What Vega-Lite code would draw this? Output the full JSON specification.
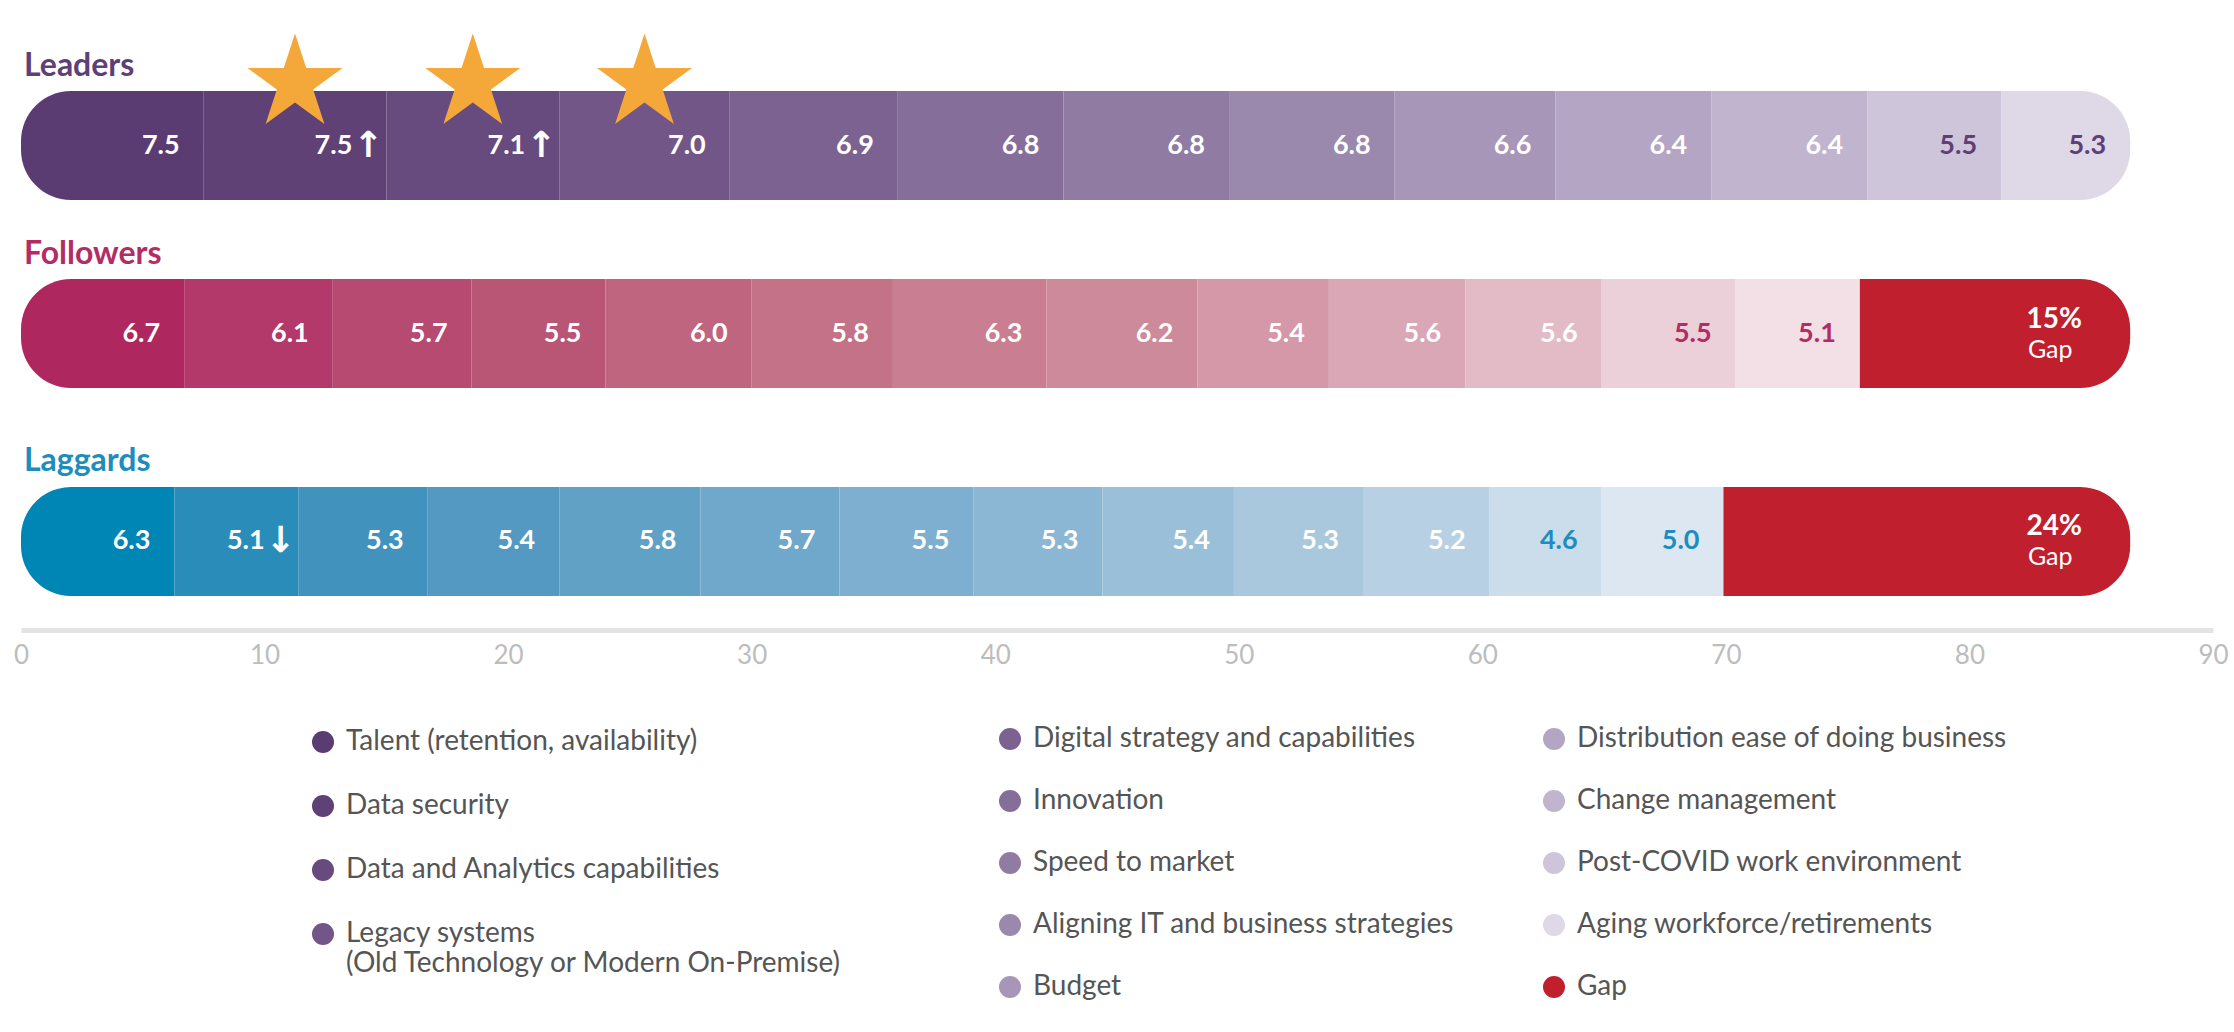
{
  "$schema": "https://vega.github.io/schema/vega-lite/v6.json",
  "width": 2192,
  "height": 573,
  "autosize": {"type": "none"},
  "padding": {"left": 21, "top": 57, "right": 21, "bottom": 402},
  "background": "white",
  "config": {"view": {"stroke": null}, "font": "Lato"},
  "data": {
    "values": [
      {"group": "Leaders", "rank": 1, "factor": "Talent (retention, availability)", "value": 7.5},
      {"group": "Leaders", "rank": 2, "factor": "Data security", "value": 7.5, "trend": "↑", "star": true},
      {"group": "Leaders", "rank": 3, "factor": "Data and Analytics capabilities", "value": 7.1, "trend": "↑", "star": true},
      {"group": "Leaders", "rank": 4, "factor": "Legacy systems (Old Technology or Modern On-Premise)", "value": 7.0, "star": true},
      {"group": "Leaders", "rank": 5, "factor": "Digital strategy and capabilities", "value": 6.9},
      {"group": "Leaders", "rank": 6, "factor": "Innovation", "value": 6.8},
      {"group": "Leaders", "rank": 7, "factor": "Speed to market", "value": 6.8},
      {"group": "Leaders", "rank": 8, "factor": "Aligning IT and business strategies", "value": 6.8},
      {"group": "Leaders", "rank": 9, "factor": "Budget", "value": 6.6},
      {"group": "Leaders", "rank": 10, "factor": "Distribution ease of doing business", "value": 6.4},
      {"group": "Leaders", "rank": 11, "factor": "Change management", "value": 6.4},
      {"group": "Leaders", "rank": 12, "factor": "Post-COVID work environment", "value": 5.5},
      {"group": "Leaders", "rank": 13, "factor": "Aging workforce/retirements", "value": 5.3},
      {"group": "Followers", "rank": 1, "factor": "Talent (retention, availability)", "value": 6.7},
      {"group": "Followers", "rank": 2, "factor": "Data security", "value": 6.1},
      {"group": "Followers", "rank": 3, "factor": "Data and Analytics capabilities", "value": 5.7},
      {"group": "Followers", "rank": 4, "factor": "Legacy systems (Old Technology or Modern On-Premise)", "value": 5.5},
      {"group": "Followers", "rank": 5, "factor": "Digital strategy and capabilities", "value": 6.0},
      {"group": "Followers", "rank": 6, "factor": "Innovation", "value": 5.8},
      {"group": "Followers", "rank": 7, "factor": "Speed to market", "value": 6.3},
      {"group": "Followers", "rank": 8, "factor": "Aligning IT and business strategies", "value": 6.2},
      {"group": "Followers", "rank": 9, "factor": "Budget", "value": 5.4},
      {"group": "Followers", "rank": 10, "factor": "Distribution ease of doing business", "value": 5.6},
      {"group": "Followers", "rank": 11, "factor": "Change management", "value": 5.6},
      {"group": "Followers", "rank": 12, "factor": "Post-COVID work environment", "value": 5.5},
      {"group": "Followers", "rank": 13, "factor": "Aging workforce/retirements", "value": 5.1},
      {"group": "Followers", "rank": 14, "factor": "Gap", "value": 11.1, "label": "15%"},
      {"group": "Laggards", "rank": 1, "factor": "Talent (retention, availability)", "value": 6.3},
      {"group": "Laggards", "rank": 2, "factor": "Data security", "value": 5.1, "trend": "↓"},
      {"group": "Laggards", "rank": 3, "factor": "Data and Analytics capabilities", "value": 5.3},
      {"group": "Laggards", "rank": 4, "factor": "Legacy systems (Old Technology or Modern On-Premise)", "value": 5.4},
      {"group": "Laggards", "rank": 5, "factor": "Digital strategy and capabilities", "value": 5.8},
      {"group": "Laggards", "rank": 6, "factor": "Innovation", "value": 5.7},
      {"group": "Laggards", "rank": 7, "factor": "Speed to market", "value": 5.5},
      {"group": "Laggards", "rank": 8, "factor": "Aligning IT and business strategies", "value": 5.3},
      {"group": "Laggards", "rank": 9, "factor": "Budget", "value": 5.4},
      {"group": "Laggards", "rank": 10, "factor": "Distribution ease of doing business", "value": 5.3},
      {"group": "Laggards", "rank": 11, "factor": "Change management", "value": 5.2},
      {"group": "Laggards", "rank": 12, "factor": "Post-COVID work environment", "value": 4.6},
      {"group": "Laggards", "rank": 13, "factor": "Aging workforce/retirements", "value": 5.0},
      {"group": "Laggards", "rank": 14, "factor": "Gap", "value": 16.7, "label": "24%"}
    ]
  },
  "transform": [
    {"stack": "value", "groupby": ["group"], "sort": [{"field": "rank", "order": "ascending"}], "as": ["x0", "x1"]},
    {"calculate": "(datum.x0 + datum.x1) / 2", "as": "mid"}
  ],
  "encoding": {
    "y": {"field": "group", "type": "nominal", "sort": ["Leaders", "Followers", "Laggards"], "axis": null,
          "scale": {"paddingInner": 0.45, "paddingOuter": 0.172}}
  },
  "layer": [
    {
      "transform": [{"filter": "datum.group == 'Leaders' && datum.rank <= 4"}],
      "mark": {"type": "circle", "size": 484, "opacity": 1},
      "encoding": {
        "x": {"field": "mid", "type": "quantitative"},
        "color": {"field": "factor", "type": "nominal",
          "scale": {"domain": ["Talent (retention, availability)", "Data security", "Data and Analytics capabilities", "Legacy systems (Old Technology or Modern On-Premise)"],
                    "range": ["#5b3c72", "#5f4176", "#674b7e", "#715687"]},
          "legend": {"orient": "none", "legendX": 288, "legendY": 671, "title": null, "symbolType": "circle", "symbolSize": 484,
                     "labelFont": "Lato", "labelFontSize": 28, "labelColor": "#555555", "labelOffset": 9, "rowPadding": 36, "labelLimit": 900,
                     "labelExpr": "datum.label == 'Legacy systems (Old Technology or Modern On-Premise)' ? ['Legacy systems', '(Old Technology or Modern On-Premise)'] : datum.label"}}
      }
    },
    {
      "transform": [{"filter": "datum.group == 'Leaders' && datum.rank >= 5 && datum.rank <= 9"}],
      "mark": {"type": "circle", "size": 484, "opacity": 1},
      "encoding": {
        "x": {"field": "mid", "type": "quantitative"},
        "color": {"field": "factor", "type": "nominal",
          "scale": {"domain": ["Digital strategy and capabilities", "Innovation", "Speed to market", "Aligning IT and business strategies", "Budget"],
                    "range": ["#7b6290", "#856e99", "#907ba3", "#9b88ad", "#a796b8"]},
          "legend": {"orient": "none", "legendX": 975, "legendY": 668, "title": null, "symbolType": "circle", "symbolSize": 484,
                     "labelFont": "Lato", "labelFontSize": 28, "labelColor": "#555555", "labelOffset": 9, "rowPadding": 34, "labelLimit": 900}}
      }
    },
    {
      "transform": [{"filter": "(datum.group == 'Leaders' && datum.rank >= 10) || (datum.group == 'Followers' && datum.factor == 'Gap')"}],
      "mark": {"type": "circle", "size": 484, "opacity": 1},
      "encoding": {
        "x": {"field": "mid", "type": "quantitative"},
        "color": {"field": "factor", "type": "nominal",
          "scale": {"domain": ["Distribution ease of doing business", "Change management", "Post-COVID work environment", "Aging workforce/retirements", "Gap"],
                    "range": ["#b3a5c3", "#c1b4ce", "#cfc5da", "#dfd8e6", "#c01f2e"]},
          "legend": {"orient": "none", "legendX": 1519, "legendY": 668, "title": null, "symbolType": "circle", "symbolSize": 484,
                     "labelFont": "Lato", "labelFontSize": 28, "labelColor": "#555555", "labelOffset": 9, "rowPadding": 34, "labelLimit": 900}}
      }
    },
    {
      "transform": [{"filter": "datum.group == 'Leaders'"}],
      "mark": {"type": "bar",
        "cornerRadiusTopLeft": {"expr": "datum.rank == 1 ? 50 : 0"},
        "cornerRadiusBottomLeft": {"expr": "datum.rank == 1 ? 50 : 0"},
        "cornerRadiusTopRight": {"expr": "datum.rank == 13 ? 50 : 0"},
        "cornerRadiusBottomRight": {"expr": "datum.rank == 13 ? 50 : 0"}},
      "encoding": {
        "x": {"field": "x0", "type": "quantitative", "scale": {"domain": [0, 90], "nice": false, "zero": true},
              "axis": {"values": [0, 10, 20, 30, 40, 50, 60, 70, 80, 90], "title": null, "ticks": false, "grid": false,
                       "domainColor": "#e3e3e3", "domainWidth": 5, "labelColor": "#bdbdbd", "labelFont": "Lato",
                       "labelFontSize": 26, "labelPadding": 12, "labelFlush": false, "labelBound": false, "labelOverlap": false}},
        "x2": {"field": "x1"},
        "color": {"field": "factor", "type": "nominal", "legend": null,
          "scale": {"domain": ["Talent (retention, availability)", "Data security", "Data and Analytics capabilities", "Legacy systems (Old Technology or Modern On-Premise)", "Digital strategy and capabilities", "Innovation", "Speed to market", "Aligning IT and business strategies", "Budget", "Distribution ease of doing business", "Change management", "Post-COVID work environment", "Aging workforce/retirements"],
                    "range": ["#5b3c72", "#5f4176", "#674b7e", "#715687", "#7b6290", "#856e99", "#907ba3", "#9b88ad", "#a796b8", "#b3a5c3", "#c1b4ce", "#cfc5da", "#dfd8e6"]}}
      }
    },
    {
      "transform": [{"filter": "datum.group == 'Followers' && datum.factor != 'Gap'"}],
      "mark": {"type": "bar", "yOffset": -10,
        "cornerRadiusTopLeft": {"expr": "datum.rank == 1 ? 50 : 0"},
        "cornerRadiusBottomLeft": {"expr": "datum.rank == 1 ? 50 : 0"}},
      "encoding": {
        "x": {"field": "x0", "type": "quantitative"},
        "x2": {"field": "x1"},
        "color": {"field": "factor", "type": "nominal", "legend": null,
          "scale": {"domain": ["Talent (retention, availability)", "Data security", "Data and Analytics capabilities", "Legacy systems (Old Technology or Modern On-Premise)", "Digital strategy and capabilities", "Innovation", "Speed to market", "Aligning IT and business strategies", "Budget", "Distribution ease of doing business", "Change management", "Post-COVID work environment", "Aging workforce/retirements"],
                    "range": ["#ae285f", "#b3396a", "#b64a70", "#ba5675", "#c0657f", "#c47288", "#c97e91", "#cc8a9b", "#d498a9", "#daa7b7", "#e3bbc7", "#ecd0d9", "#f3dfe6"]}}
      }
    },
    {
      "transform": [{"filter": "datum.group == 'Laggards' && datum.factor != 'Gap'"}],
      "mark": {"type": "bar",
        "cornerRadiusTopLeft": {"expr": "datum.rank == 1 ? 50 : 0"},
        "cornerRadiusBottomLeft": {"expr": "datum.rank == 1 ? 50 : 0"}},
      "encoding": {
        "x": {"field": "x0", "type": "quantitative"},
        "x2": {"field": "x1"},
        "color": {"field": "factor", "type": "nominal", "legend": null,
          "scale": {"domain": ["Talent (retention, availability)", "Data security", "Data and Analytics capabilities", "Legacy systems (Old Technology or Modern On-Premise)", "Digital strategy and capabilities", "Innovation", "Speed to market", "Aligning IT and business strategies", "Budget", "Distribution ease of doing business", "Change management", "Post-COVID work environment", "Aging workforce/retirements"],
                    "range": ["#0086b4", "#2a8cb9", "#4193bd", "#5399c2", "#62a1c6", "#70a8cb", "#7eafd0", "#8bb6d4", "#9abfd9", "#a9c8de", "#b7d0e4", "#cbdcea", "#dde7f2"]}}
      }
    },
    {
      "transform": [{"filter": "datum.factor == 'Gap'"}],
      "mark": {"type": "bar", "color": "#c01f2e", "cornerRadiusTopRight": 50, "cornerRadiusBottomRight": 50,
               "yOffset": {"expr": "datum.group == 'Followers' ? -10 : 0"}},
      "encoding": {
        "x": {"field": "x0", "type": "quantitative"},
        "x2": {"field": "x1"}
      }
    },
    {
      "transform": [{"filter": "datum.factor != 'Gap'"}],
      "mark": {"type": "text", "align": "right", "baseline": "middle", "font": "Lato", "fontWeight": "bold", "fontSize": 27,
               "dx": {"expr": "datum.trend ? -34 : -24"},
               "yOffset": {"expr": "datum.group == 'Followers' ? -10 : 0"}},
      "encoding": {
        "x": {"field": "x1", "type": "quantitative"},
        "text": {"field": "value", "type": "quantitative", "format": ".1f"},
        "color": {"condition": {"test": "datum.rank >= 12", "field": "group", "type": "nominal",
                                "scale": {"domain": ["Leaders", "Followers", "Laggards"], "range": ["#5e3f78", "#b32c63", "#1d8dbe"]}, "legend": null},
                  "value": "white"}
      }
    },
    {
      "transform": [{"filter": "datum.trend"}],
      "mark": {"type": "text", "align": "center", "baseline": "middle", "font": "DejaVu Sans", "fontWeight": "bold", "fontSize": 36, "dx": -18, "color": "white"},
      "encoding": {
        "x": {"field": "x1", "type": "quantitative"},
        "text": {"field": "trend"}
      }
    },
    {
      "transform": [{"filter": "datum.factor == 'Gap'"}],
      "mark": {"type": "text", "align": "center", "baseline": "middle", "font": "Lato", "fontWeight": "bold", "fontSize": 28, "dx": -76, "dy": -14, "color": "white",
               "yOffset": {"expr": "datum.group == 'Followers' ? -10 : 0"}},
      "encoding": {
        "x": {"field": "x1", "type": "quantitative"},
        "text": {"field": "label"}
      }
    },
    {
      "transform": [{"filter": "datum.factor == 'Gap'"}],
      "mark": {"type": "text", "align": "center", "baseline": "middle", "font": "Lato", "fontSize": 25, "dx": -80, "dy": 16, "color": "white",
               "yOffset": {"expr": "datum.group == 'Followers' ? -10 : 0"}},
      "encoding": {
        "x": {"field": "x1", "type": "quantitative"},
        "text": {"value": "Gap"}
      }
    },
    {
      "transform": [{"filter": "datum.star"}],
      "mark": {"type": "point", "filled": true, "opacity": 1, "color": "#f5a83a", "size": 10000, "yOffset": -62,
               "shape": "M0,-1L0.225,-0.309L0.951,-0.309L0.363,0.118L0.588,0.809L0,0.382L-0.588,0.809L-0.363,0.118L-0.951,-0.309L-0.225,-0.309Z"},
      "encoding": {
        "x": {"field": "mid", "type": "quantitative"}
      }
    },
    {
      "transform": [{"filter": "datum.rank == 1"}],
      "mark": {"type": "text", "align": "left", "baseline": "middle", "font": "Lato", "fontWeight": "bold", "fontSize": 32, "dx": 3, "dy": -80,
               "yOffset": {"expr": "datum.group == 'Followers' ? -10 : 0"}},
      "encoding": {
        "x": {"field": "x0", "type": "quantitative"},
        "text": {"field": "group"},
        "color": {"field": "group", "type": "nominal", "legend": null,
                  "scale": {"domain": ["Leaders", "Followers", "Laggards"], "range": ["#5e3f78", "#b32c63", "#1d8dbe"]}}
      }
    }
  ],
  "resolve": {"scale": {"color": "independent"}, "legend": {"color": "independent"}}
}
